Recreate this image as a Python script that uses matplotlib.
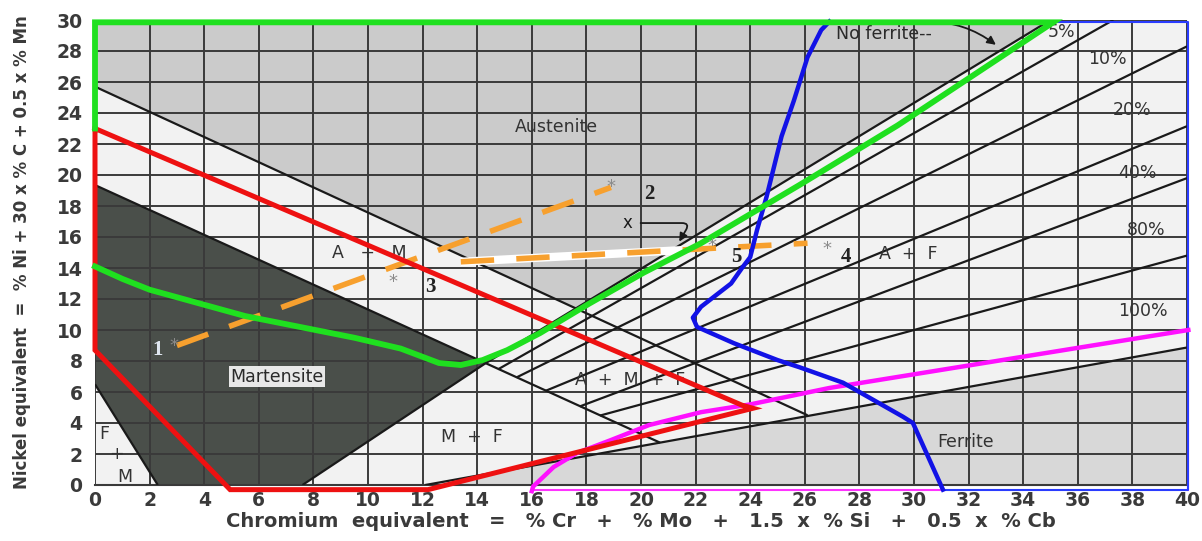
import matplotlib
matplotlib.use("Agg")
import matplotlib.pyplot as plt

# ---------------- data (Cr equivalent, Ni equivalent) ----------------
x_ticks = list(range(0, 41, 2))
y_ticks = list(range(0, 31, 2))

# phase-region polygons
austenite_x = [0, 0, 35.0, 17.6]
austenite_y = [25.7, 30, 30, 11.4]
martensite_x = [0, 14.3, 7.6, 2.3, 0]
martensite_y = [19.35, 7.85, 0, 0, 6.5]
ferrite_x = [12.1, 40, 40]
ferrite_y = [0, 0, 8.87]

# boundary lines
aust_line_x = [0, 26.1]
aust_line_y = [25.7, 4.5]
mart_line_x = [0, 20.7]
mart_line_y = [19.35, 2.73]
mart_right_x = [14.3, 7.6]
mart_right_y = [7.85, 0]
fm_line_x = [0, 2.3]
fm_line_y = [6.5, 0]

# iso-ferrite lines: no ferrite, 5, 10, 20, 40, 80, 100 %
ferr_start_x = [14.3, 14.77, 15.44, 16.5, 17.76, 18.5, 12.1]
ferr_start_y = [7.85, 7.47, 6.94, 6.07, 5.07, 4.48, 0.0]
ferr_end_x = [35.0, 37.3, 40, 40, 40, 40, 40]
ferr_end_y = [30, 30, 28.3, 23.15, 19.8, 14.8, 8.87]
pct_labels = ["5%", "10%", "20%", "40%", "80%", "100%"]
pct_x = [35.4, 37.1, 38.0, 38.2, 38.5, 38.4]
pct_y = [29.2, 27.5, 24.2, 20.1, 16.45, 11.2]

# coloured overlays
green_x = [0, 1.0, 2.0, 3.85, 5.5, 7.5, 9.5, 11.2, 12.6, 13.4, 14.2, 15.1,
           16.3, 18.1, 20.1, 22.2, 25.8, 29.4, 35.1, 0, 0]
green_y = [14.1, 13.3, 12.6, 11.7, 10.9, 10.2, 9.5, 8.8, 7.87, 7.74, 8.06, 8.7,
           9.8, 11.7, 13.7, 15.6, 19.35, 23.2, 29.85, 29.85, 23.0]
red_x = [0, 23.7, 24.1, 12.2, 4.95, 0, 0]
red_y = [23.0, 5.15, 4.95, -0.3, -0.3, 8.7, 23.0]
blue_x = [26.9, 26.6, 26.1, 25.6, 25.15, 24.6, 24.25, 24.0, 23.7, 23.3, 22.2,
          21.9, 22.05, 23.4, 25.0, 25.8, 27.4, 28.5, 29.6, 29.96, 31.06]
blue_y = [29.9, 29.35, 27.6, 24.8, 22.5, 18.6, 16.45, 14.7, 14.0, 13.0, 11.5,
          10.8, 10.2, 9.15, 8.06, 7.6, 6.6, 5.5, 4.4, 4.0, -0.3]
blue_frame_x = [31.06, 40.05, 40.05, 35.1]
blue_frame_y = [-0.3, -0.3, 29.87, 29.87]
magenta_x = [16.0, 16.05, 16.8, 17.65, 18.9, 20.3, 22.2, 24.0, 26.9, 40.05]
magenta_y = [-0.4, -0.1, 1.16, 2.06, 2.9, 3.87, 4.7, 5.2, 6.26, 10.0]
magenta_frame_x = [16.0, 31.06]
magenta_frame_y = [-0.3, -0.3]
magenta_right_x = [40.05, 40.05]
magenta_right_y = [-0.3, 10.0]

# welding paths (orange dashed)
path12_x = [3.0, 18.9]
path12_y = [9.0, 19.2]
path34_x = [13.4, 26.1]
path34_y = [14.4, 15.6]
white_x = [13.4, 21.5]
white_y = [14.4, 15.15]

point_names = ["1", "2", "3", "4", "5"]
star_x = [2.9, 18.9, 10.9, 26.8, 22.6]
star_y = [9.0, 19.2, 13.1, 15.2, 15.4]
name_x = [2.3, 20.3, 12.3, 27.5, 23.5]
name_y = [8.7, 18.8, 12.8, 14.7, 14.7]
name_colors = ["#dfe6f0", "#222222", "#222222", "#222222", "#222222"]

region_text = ["Austenite", "A   +   M", "A  +  M  +  F", "A  +  F", "M  +  F", "Ferrite"]
region_x = [16.9, 10.05, 19.6, 29.8, 13.8, 31.9]
region_y = [23.1, 15.0, 6.8, 14.9, 3.1, 2.8]

# ---------------- figure ----------------
W, H = 1202, 541
fig = plt.figure(figsize=(W / 100, H / 100), dpi=100)
fig.patch.set_facecolor("white")
ax = fig.add_axes([95 / W, 1 - 485 / H, (1187 - 95) / W, (485 - 20) / H])
ax.set_xlim(0, 40)
ax.set_ylim(0, 30)
ax.set_facecolor("#f2f2f2")

ax.fill(austenite_x, austenite_y, color="#cbcbcb", zorder=1, lw=0)
ax.fill(martensite_x, martensite_y, color="#4a4f4a", zorder=1, lw=0)
ax.fill(ferrite_x, ferrite_y, color="#d8d8d8", zorder=1, lw=0)

ax.set_xticks(x_ticks)
ax.set_yticks(y_ticks)
ax.grid(True, color="#3a3a3a", lw=1.4, zorder=1.5)
ax.set_axisbelow(False)
for gl in ax.get_xgridlines() + ax.get_ygridlines():
    gl.set_zorder(1.5)
ax.tick_params(length=0, labelsize=13.5, labelcolor="#3a3a3a")
ax.tick_params(axis="x", pad=4)
ax.tick_params(axis="y", pad=9)
for lab in ax.get_xticklabels() + ax.get_yticklabels():
    lab.set_fontweight("bold")
for s in ["top", "right", "left"]:
    ax.spines[s].set_visible(False)
ax.spines["bottom"].set_color("#3a3a3a")
ax.spines["bottom"].set_linewidth(1.5)

blk = dict(color="#1a1a1a", lw=1.6, zorder=3, solid_capstyle="butt")
ax.plot(aust_line_x, aust_line_y, **blk)
ax.plot(mart_line_x, mart_line_y, **blk)
ax.plot(mart_right_x, mart_right_y, **blk)
ax.plot(fm_line_x, fm_line_y, **blk)
for x0, y0, x1, y1 in zip(ferr_start_x, ferr_start_y, ferr_end_x, ferr_end_y):
    ax.plot([x0, x1], [y0, y1], **blk)

txt = dict(color="#333333", fontsize=12.5, ha="center", va="center", zorder=4)
for t, x, y in zip(pct_labels, pct_x, pct_y):
    ax.text(x, y, t, **txt)
for t, x, y in zip(region_text, region_x, region_y):
    ax.text(x, y, t, **txt)
ax.text(6.67, 7.0, "Martensite", color="#2a2a2a", fontsize=12.5, ha="center",
        va="center", zorder=4,
        bbox=dict(boxstyle="square,pad=0.1", fc="#e8e8e8", ec="none"))
for t, x, y in zip(["F", "+", "M"], [0.35, 0.8, 1.1], [3.3, 2.0, 0.5]):
    ax.text(x, y, t, **txt)

ax.annotate("No ferrite--", xy=(33.0, 28.4), xytext=(28.9, 29.1),
            fontsize=12.5, color="#2a2a2a", ha="center", va="center", zorder=4,
            arrowprops=dict(arrowstyle="-|>", color="#1a1a1a", lw=1.3,
                            connectionstyle="arc3,rad=-0.3",
                            shrinkA=0, shrinkB=0))
ax.annotate("x", xy=(21.4, 15.7), xytext=(19.5, 16.9),
            fontsize=12, color="#1a1a1a", ha="center", va="center", zorder=4,
            arrowprops=dict(arrowstyle="-|>", color="#1a1a1a", lw=1.3,
                            connectionstyle="angle,angleA=0,angleB=60,rad=8",
                            shrinkA=4, shrinkB=0))

# coloured overlays
ax.plot(white_x, white_y, color="white", lw=6, zorder=5, solid_capstyle="butt")
dash = dict(color="#f7a02e", lw=4, zorder=6, dashes=(6, 4), solid_capstyle="butt")
ax.plot(path12_x, path12_y, **dash)
ax.plot(path34_x, path34_y, **dash)

ax.plot(magenta_frame_x, magenta_frame_y, color="#ff33ff", lw=1.5, zorder=6, clip_on=False)
ax.plot(magenta_right_x, magenta_right_y, color="#ff33ff", lw=1.5, zorder=6, clip_on=False)
ax.plot(blue_frame_x, blue_frame_y, color="#2a3cff", lw=1.5, zorder=6, clip_on=False)
ax.plot(magenta_x, magenta_y, color="#ff10ff", lw=3.2, zorder=7, clip_on=False)
ax.plot(blue_x, blue_y, color="#1212e6", lw=3.2, zorder=7, clip_on=False,
        solid_joinstyle="round")
ax.plot(red_x, red_y, color="#ee1111", lw=3.6, zorder=8, clip_on=False,
        solid_joinstyle="miter")
ax.plot(green_x, green_y, color="#1fe01f", lw=4.2, zorder=9, clip_on=False,
        solid_joinstyle="miter")

for n, sx, sy, nx, ny, c in zip(point_names, star_x, star_y, name_x, name_y, name_colors):
    ax.text(sx, sy, "*", color="#8a8a8a", fontsize=13, ha="center", va="center", zorder=10)
    ax.text(nx, ny, n, color=c, fontsize=15, family="Liberation Serif",
            fontweight="bold", ha="center", va="center", zorder=10)

ax.set_xlabel("Chromium  equivalent   =   % Cr   +   % Mo   +   1.5  x  % Si   +   0.5  x  % Cb",
              fontsize=14, color="#3a3a3a", fontweight="bold", labelpad=2)
ax.set_ylabel("Nickel equivalent  =  % Ni + 30 x % C + 0.5 x % Mn",
              fontsize=12, color="#3a3a3a", fontweight="bold", labelpad=18)

fig.savefig("out.png", dpi=100)
